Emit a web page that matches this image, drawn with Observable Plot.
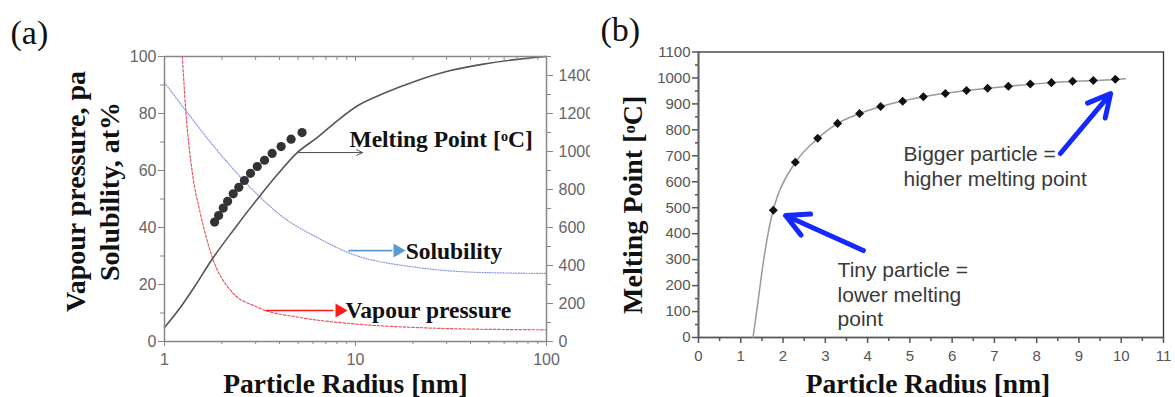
<!DOCTYPE html>
<html>
<head>
<meta charset="utf-8">
<script src="https://cdn.jsdelivr.net/npm/d3@7"></script>
<script src="https://cdn.jsdelivr.net/npm/@observablehq/plot@0.6"></script>
<style>
  body { margin: 0; background: #fff; }
  #chart { display: flex; width: 1175px; height: 397px; }
  #chart svg { display: block; flex: none; }
</style>
</head>
<body>
<div id="chart"></div>
<script>
// ---------- (a) size dependence of melting point, solubility and vapour pressure ----------
const mpRadius = [1, 1.21, 1.45, 1.74, 2.31, 3.18, 3.91, 4.97, 6.32, 8.05, 10.3, 14, 21.1, 31.4, 46.8, 70.5, 100];
const mpTemp   = [74, 179, 295, 420, 590, 770, 880, 995, 1074, 1163, 1242, 1305, 1374, 1426, 1460, 1485, 1500];

const solRadius = [1, 1.26, 1.89, 2.82, 4.2, 6.3, 9.4, 21, 46.8, 100];
const solValue  = [90.9, 82, 67, 54, 43.5, 36.5, 30.9, 26, 24.2, 23.9];

const vpRadius = [1.24, 1.29, 1.40, 1.54, 1.78, 2.22, 3.07, 5.15, 9.4, 21, 31.6, 100];
const vpValue  = [100, 81.8, 59, 45, 29.5, 17.9, 12, 8.4, 6.3, 4.9, 4.5, 4.1];

const dotRadius = [1.83, 1.92, 2.03, 2.14, 2.29, 2.45, 2.62, 2.82, 3.06, 3.34, 3.66, 4.08, 4.60, 5.25];
const dotValue  = [41.9, 44.2, 46.8, 49.2, 51.8, 54.1, 56.5, 59.0, 61.4, 63.6, 66.0, 68.4, 71.0, 73.3];

const logTicks   = [1, 10, 100];
const logMinor   = [2, 3, 4, 5, 6, 7, 8, 9, 20, 30, 40, 50, 60, 70, 80, 90];
const leftTicks  = [0, 20, 40, 60, 80, 100];
const leftMinor  = [10, 30, 50, 70, 90];
const rightTicks = [0, 200, 400, 600, 800, 1000, 1200, 1400];
const rightMinor = [100, 300, 500, 700, 900, 1100, 1300, 1500];

// ---------- (b) melting point versus particle radius ----------
const bRadius = [1.77, 2.29, 2.82, 3.29, 3.81, 4.31, 4.83, 5.32, 5.84, 6.34, 6.84, 7.33, 7.85, 8.35, 8.85, 9.34, 9.86];
const bTemp   = [490, 675, 768, 825, 863, 890, 910, 928, 940, 952, 960, 968, 977, 982, 987, 990, 995];

const fitRadius = [1.29, 1.39, 1.545, 1.77, 1.86, 2.29, 2.82, 3.29, 3.81, 4.31, 5.32, 6.34, 7.33, 8.35, 9.34, 9.86, 10.1];
const fitTemp   = [0, 117, 303, 493, 540, 674, 767, 825, 863, 890, 928, 952, 968, 982, 990, 994, 997];

const bXTicks = [0, 1, 2, 3, 4, 5, 6, 7, 8, 9, 10, 11];
const bXMinor = [0.5, 1.5, 2.5, 3.5, 4.5, 5.5, 6.5, 7.5, 8.5, 9.5, 10.5];
const bYTicks = [0, 100, 200, 300, 400, 500, 600, 700, 800, 900, 1000, 1100];
const bYMinor = [50, 150, 250, 350, 450, 550, 650, 750, 850, 950, 1050];

// ---------- annotations ----------
const notesA = [
  {text: "Melting Point [oC]", x: 9.3, y: 68.1},
  {text: "Solubility", x: 18.3, y: 28.8},
  {text: "Vapour pressure", x: 8.87, y: 8.1}
];
const pointerA = [
  {x1: 4.97, x2: 10.9, y: 66.3, head: null, color: "#555"},
  {x1: 9.19, x2: 15.6, y: 31.9, head: 16.6, color: "#5b9bd5"},
  {x1: 3.38, x2: 7.67, y: 10.9, head: 8.25, color: "#ff1a1a"}
];
const notesB = [
  {text: "Bigger particle =\nhigher melting point", x: 4.85, y: 747},
  {text: "Tiny particle =\nlower melting\npoint", x: 3.29, y: 300}
];
const arrowsB = [
  {x1: 3.90, y1: 335, x2: 2.06, y2: 470},
  {x1: 8.56, y1: 709, x2: 9.75, y2: 940}
];

const zip = (xs, ys) => xs.map((x, i) => ({x, y: ys[i]}));
const MP_PER_UNIT = 15; // right-hand °C axis: 1500 °C spans the 0–100 left axis
const plain = d => String(Math.round(d));

const serif = "'Liberation Serif', 'Times New Roman', serif";
const sans = "'Liberation Sans', Arial, Helvetica, sans-serif";

const heightA = 397, topA = 56, bottomA = 56;
const plotA = Plot.plot({
  width: 590,
  height: heightA,
  marginLeft: 164,
  marginRight: 44,
  marginTop: topA,
  marginBottom: bottomA,
  x: {type: "log", domain: [1, 100]},
  y: {domain: [0, 100]},
  style: {fontFamily: sans, fontSize: "16px", color: "#666", background: "#fff", overflow: "visible"},
  marks: [
    Plot.line(zip(solRadius, solValue), {x: "x", y: "y", stroke: "#8c95de", strokeWidth: 1.2, strokeDasharray: "1,1.6", curve: "monotone-x"}),
    Plot.line(zip(vpRadius, vpValue), {x: "x", y: "y", stroke: "#ee5560", strokeWidth: 1.2, strokeDasharray: "2.5,1.8", curve: "monotone-x", clip: true}),
    Plot.line(zip(mpRadius, mpTemp), {x: "x", y: d => d.y / MP_PER_UNIT, stroke: "#555", strokeWidth: 1.6, curve: "monotone-x"}),
    Plot.dot(zip(dotRadius, dotValue), {x: "x", y: "y", r: 4.6, fill: "#333"}),

    // frame and ticks
    Plot.frame({stroke: "#888", strokeWidth: 1.5}),
    Plot.axisY({anchor: "left", ticks: leftTicks, tickFormat: plain, tickSize: 6, tickPadding: 2, label: null, stroke: "#888"}),
    Plot.axisY({anchor: "left", ticks: leftMinor, tickSize: 4, tickFormat: () => "", label: null, stroke: "#888"}),
    Plot.axisY({anchor: "right", ticks: rightTicks.map(v => v / MP_PER_UNIT), tickFormat: d => plain(d * MP_PER_UNIT), tickSize: 6, tickPadding: 6, label: null, stroke: "#888"}),
    Plot.axisY({anchor: "right", ticks: rightMinor.map(v => v / MP_PER_UNIT), tickFormat: () => "", tickSize: 4, label: null, stroke: "#888"}),
    Plot.axisX({anchor: "bottom", ticks: logTicks, tickFormat: plain, tickSize: 5, tickPadding: 7, label: null, stroke: "#888"}),
    Plot.axisX({anchor: "bottom", ticks: logMinor, tickFormat: () => "", tickSize: 3, label: null, stroke: "#888"}),
    Plot.ruleX(logTicks, {x: d => d, insetBottom: heightA - topA - bottomA - 5, stroke: "#888"}),
    Plot.ruleX(logMinor, {x: d => d, insetBottom: heightA - topA - bottomA - 4, stroke: "#888"}),

    // pointers and labels
    Plot.link(pointerA, {x1: "x1", x2: "x2", y1: "y", y2: "y", stroke: "color", strokeWidth: d => d.head ? 1.6 : 1}),
    Plot.arrow(pointerA.filter(d => !d.head), {x1: "x1", x2: "x2", y1: "y", y2: "y", stroke: "color", strokeWidth: 1, headLength: 10, headAngle: 50}),
    Plot.dot(pointerA.filter(d => d.head), {x: "head", y: "y", symbol: "triangle", r: 5.2, fill: "color", rotate: 90}),
    Plot.text(notesA, {x: "x", y: "y", text: "text", textAnchor: "start", lineAnchor: "bottom", fontFamily: serif, fontWeight: "bold", fontSize: 23.5, fill: "#111"}),

    // titles
    Plot.text(["(a)"], {text: d => d, frameAnchor: "top-left", textAnchor: "start", lineAnchor: "bottom", dx: -154, dy: -13, fontFamily: serif, fontSize: 34, fill: "#111"}),
    Plot.text(["Vapour pressure, pa\nSolubility, at%"], {text: d => d, frameAnchor: "left", textAnchor: "middle", lineAnchor: "middle", rotate: -90, dx: -73, dy: -7.5, lineHeight: 1.21, fontFamily: serif, fontWeight: "bold", fontSize: 28, fill: "#111"}),
    Plot.text(["Particle Radius [nm]"], {text: d => d, frameAnchor: "bottom", textAnchor: "middle", lineAnchor: "bottom", dx: -10, dy: 51, fontFamily: serif, fontWeight: "bold", fontSize: 27.5, fill: "#111"})
  ]
});

const plotB = Plot.plot({
  width: 585,
  height: 397,
  marginLeft: 108,
  marginRight: 12,
  marginTop: 51.5,
  marginBottom: 60,
  x: {domain: [0, 11]},
  y: {domain: [0, 1100]},
  style: {fontFamily: sans, fontSize: "15px", color: "#555", background: "#fff", overflow: "visible"},
  marks: [
    Plot.frame({stroke: "#333", strokeWidth: 1.3}),
    Plot.ruleX([0], {stroke: "#666", strokeWidth: 2}),
    Plot.ruleY([0], {stroke: "#555", strokeWidth: 1.6}),
    Plot.axisY({anchor: "left", ticks: bYTicks, tickFormat: plain, tickSize: 6, tickPadding: 2, label: null, stroke: "#555", strokeWidth: 1.5}),
    Plot.axisY({anchor: "left", ticks: bYMinor, tickSize: 3, tickFormat: () => "", label: null, stroke: "#555", strokeWidth: 1.5}),
    Plot.axisX({anchor: "bottom", ticks: bXTicks, tickFormat: plain, tickSize: 6, tickPadding: 7, label: null, stroke: "#555", strokeWidth: 1.5}),
    Plot.axisX({anchor: "bottom", ticks: bXMinor, tickSize: 4, tickFormat: () => "", label: null, stroke: "#555", strokeWidth: 1.5}),

    Plot.line(zip(fitRadius, fitTemp), {x: "x", y: "y", stroke: "#9a9a9a", strokeWidth: 1.5, curve: "monotone-x"}),
    Plot.dot(zip(bRadius, bTemp), {x: "x", y: "y", symbol: "square", r: 3.6, rotate: 45, fill: "#111"}),

    Plot.arrow(arrowsB, {x1: "x1", y1: "y1", x2: "x2", y2: "y2", stroke: "#1428ff", strokeWidth: 5, headLength: 7.5, headAngle: 55}),
    Plot.text(notesB, {x: "x", y: "y", text: "text", textAnchor: "start", lineAnchor: "top", lineHeight: 1.17, fontFamily: sans, fontSize: 21, fill: "#3a3a3a"}),

    Plot.text(["(b)"], {text: d => d, frameAnchor: "top-left", textAnchor: "start", lineAnchor: "bottom", dx: -98, dy: -11.5, fontFamily: serif, fontSize: 34, fill: "#111"}),
    Plot.text(["Melting Point [oC]"], {text: d => d, frameAnchor: "left", textAnchor: "middle", lineAnchor: "middle", rotate: -90, dx: -65, dy: 10, fontFamily: serif, fontWeight: "bold", fontSize: 28, fill: "#111"}),
    Plot.text(["Particle Radius [nm]"], {text: d => d, frameAnchor: "bottom", textAnchor: "middle", lineAnchor: "bottom", dx: -3, dy: 55, fontFamily: serif, fontWeight: "bold", fontSize: 27.5, fill: "#111"})
  ]
});

// raise the "o" of the degree unit
for (const svg of [plotA, plotB]) {
  for (const t of svg.querySelectorAll("text")) {
    if (t.childElementCount === 0 && t.textContent.includes("[oC]")) {
      const [before, after] = t.textContent.split("[oC]");
      const ns = "http://www.w3.org/2000/svg";
      t.textContent = before + "[";
      const sup = document.createElementNS(ns, "tspan");
      sup.setAttribute("dy", "-0.42em");
      sup.setAttribute("font-size", "0.6em");
      sup.textContent = "o";
      const rest = document.createElementNS(ns, "tspan");
      rest.setAttribute("dy", "0.252em");
      rest.textContent = "C]" + after;
      t.append(sup, rest);
    }
  }
}

document.getElementById("chart").append(plotA, plotB);
</script>
</body>
</html>
